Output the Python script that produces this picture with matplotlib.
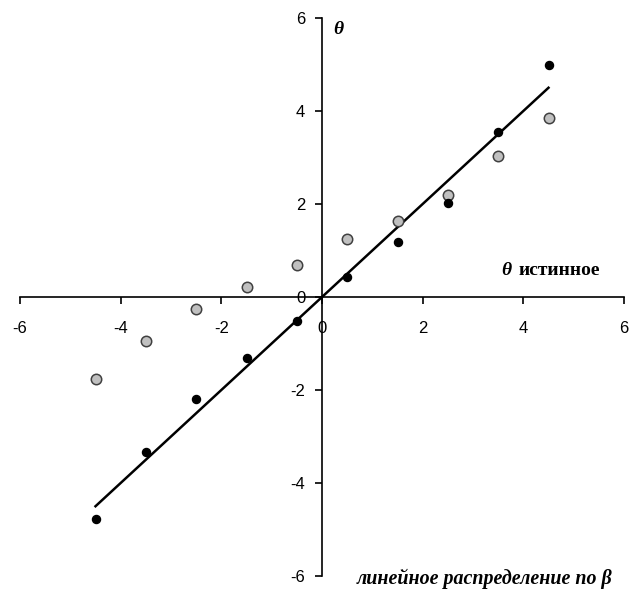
import matplotlib
matplotlib.use("Agg")
import matplotlib.pyplot as plt
import numpy as np

x_vals = [-4.5, -3.5, -2.5, -1.5, -0.5, 0.5, 1.5, 2.5, 3.5, 4.5]
grey_vals = [-1.76, -0.95, -0.26, 0.22, 0.68, 1.25, 1.63, 2.19, 3.03, 3.86]
black_vals = [-4.77, -3.33, -2.19, -1.31, -0.52, 0.42, 1.18, 2.02, 3.55, 5.00]
line_x = [-4.5, 4.5]
line_y = [-4.5, 4.5]
ticks = [-6, -4, -2, 0, 2, 4, 6]

fig = plt.figure(figsize=(6.32, 5.93), dpi=100)
ax = fig.add_axes([20/632, 17/593, 604/632, 558/593])
ax.set_xlim(-6, 6)
ax.set_ylim(-6, 6)

ax.plot(line_x, line_y, color="black", lw=1.8, zorder=2)
ax.plot(x_vals, grey_vals, "o", ms=7.5, mfc="#c0c0c0", mec="#404040", mew=1.1, zorder=3, clip_on=False)
ax.plot(x_vals, black_vals, "o", ms=5.8, mfc="black", mec="black", zorder=4, clip_on=False)

for s in ["top", "right"]:
    ax.spines[s].set_visible(False)
ax.spines["left"].set_position(("data", 0))
ax.spines["bottom"].set_position(("data", 0))
ax.spines["left"].set_linewidth(1.2)
ax.spines["bottom"].set_linewidth(1.2)

ax.set_xticks(ticks)
ax.set_yticks(ticks)
ax.set_xticklabels([str(t) for t in ticks])
ax.set_yticklabels([str(t) for t in ticks])
ax.tick_params(direction="out", length=5, width=1.2, labelsize=12, pad=12)
ax.tick_params(axis="y", pad=7)
for lab in ax.get_xticklabels() + ax.get_yticklabels():
    lab.set_family("Liberation Sans")

serif = "Liberation Serif"
ax.text(0.22, 5.76, "θ", fontsize=14, fontweight="bold", fontstyle="italic", family=serif, ha="left", va="center")
ax.text(3.76, 0.57, "θ", fontsize=14, fontweight="bold", fontstyle="italic", family=serif, ha="right", va="center")
ax.text(3.9, 0.57, "истинное", fontsize=14, fontweight="bold", family=serif, ha="left", va="center")
ax.text(5.77, -6.06, "линейное распределение по β", fontsize=14.4, fontweight="bold", fontstyle="italic",
        family=serif, ha="right", va="center")

fig.savefig("out.png", dpi=100)
